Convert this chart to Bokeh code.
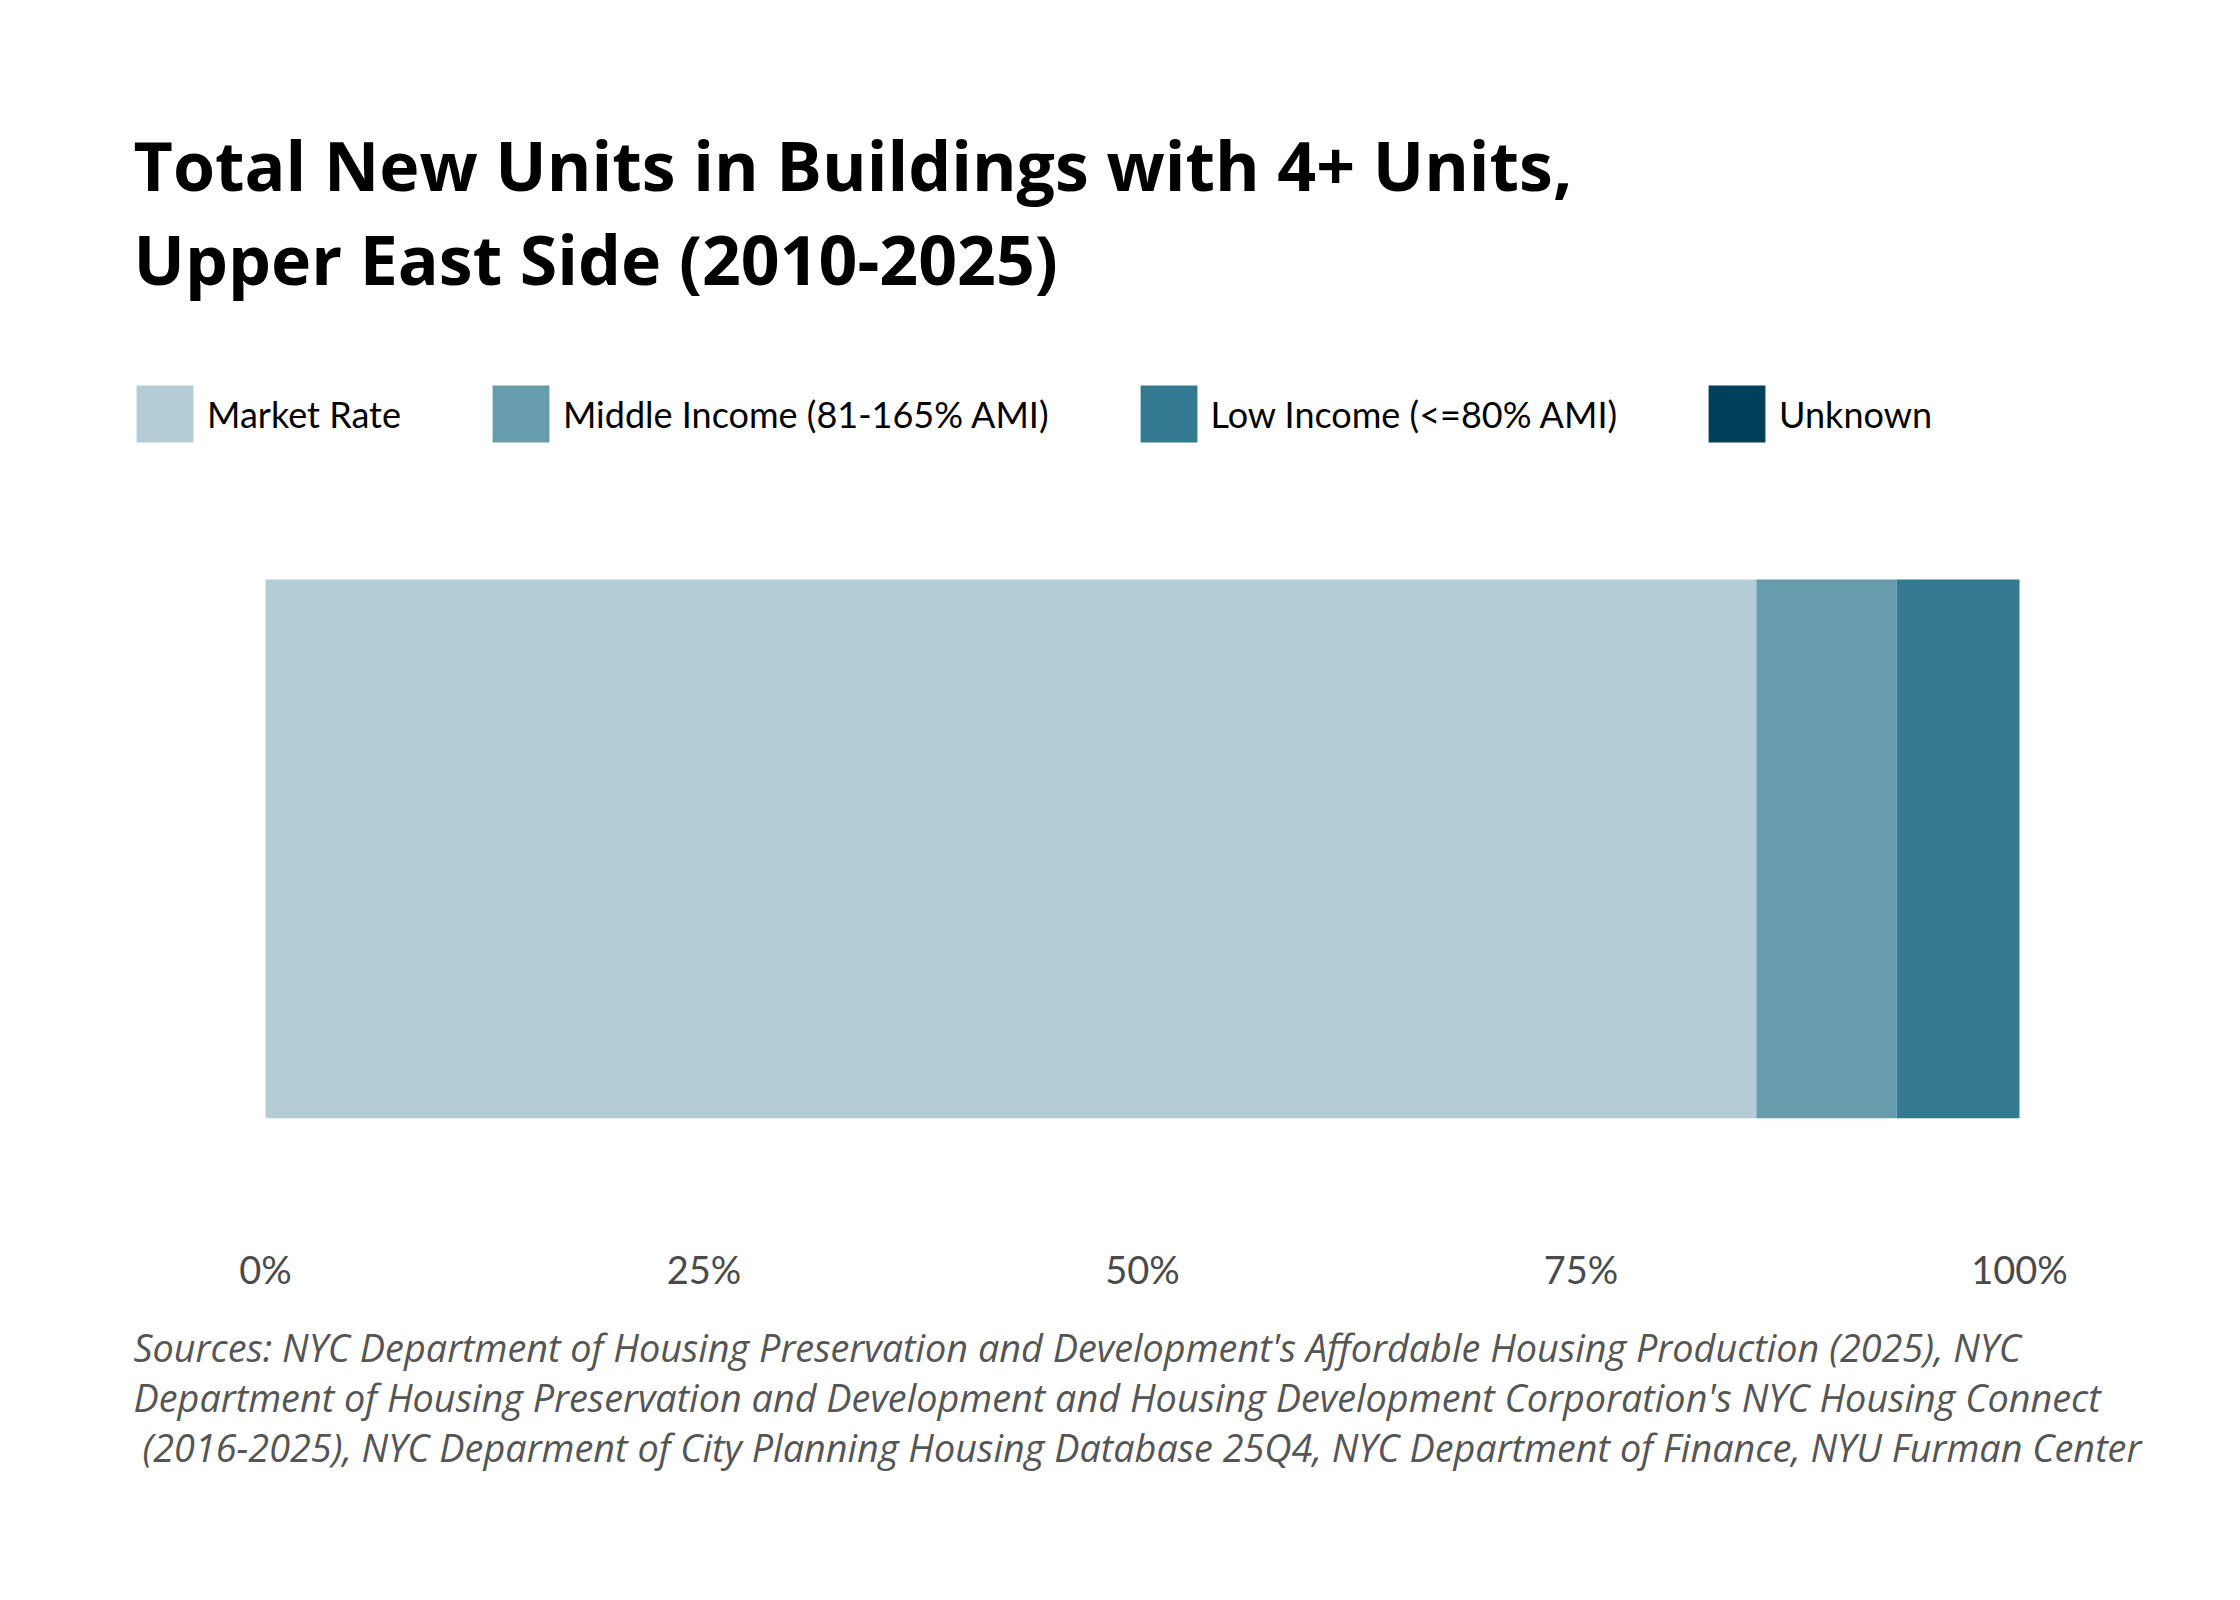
from bokeh.plotting import figure
from bokeh.models import ColumnDataSource, Range1d, FixedTicker, Label
from bokeh.layouts import column
from bokeh.embed import file_html
from bokeh.resources import INLINE

# ---- data ----
categories = ["Market Rate", "Middle Income (81-165% AMI)", "Low Income (<=80% AMI)", "Unknown"]
shares = [85.0, 8.0, 7.0, 0.0]
colors = ["#b4ccd5", "#669cab", "#33798f", "#023f5a"]
tick_values = [0, 25, 50, 75, 100]
tick_labels = ["0%", "25%", "50%", "75%", "100%"]
title_lines = ["Total New Units in Buildings with 4+ Units,", "Upper East Side (2010-2025)"]
source_lines = [
    "Sources: NYC Department of Housing Preservation and Development's Affordable Housing Production (2025), NYC",
    "Department of Housing Preservation and Development and Housing Development Corporation's NYC Housing Connect",
    " (2016-2025), NYC Deparment of City Planning Housing Database 25Q4, NYC Department of Finance, NYU Furman Center",
]

# ---- layout (pixels) ----
W = 2224
H1, H2 = 1320, 264
FRAME_BOTTOM = 1118
BAR_LEFT, BAR_RIGHT = 265, 2019
BAR_TOP = 579
px_per = (BAR_RIGHT - BAR_LEFT) / 100.0
x_start = -BAR_LEFT / px_per
x_end = 100 + (W - BAR_RIGHT) / px_per
bar_px = FRAME_BOTTOM - BAR_TOP
y_start = -0.5
y_end = y_start + FRAME_BOTTOM / bar_px

data = {"y": [0]}
for c, s in zip(categories, shares):
    data[c] = [s]
src = ColumnDataSource(data)

p = figure(width=W, height=H1, output_backend="svg", toolbar_location=None,
           x_range=Range1d(x_start, x_end), y_range=Range1d(y_start, y_end),
           y_axis_location=None, min_border_left=0, min_border_right=0,
           min_border_top=0, min_border_bottom=H1 - FRAME_BOTTOM)
p.outline_line_color = None
p.grid.visible = False
p.background_fill_color = "white"
p.border_fill_color = "white"

p.hbar_stack(categories, y="y", height=1.0, color=colors, line_color=None,
             source=src, legend_label=categories)

ax = p.xaxis[0]
ax.ticker = FixedTicker(ticks=tick_values)
ax.major_label_overrides = {v: t for v, t in zip(tick_values, tick_labels)}
ax.axis_line_color = None
ax.major_tick_line_color = None
ax.minor_tick_line_color = None
ax.major_tick_out = 0
ax.major_tick_in = 0
ax.major_label_standoff = 127
ax.major_label_text_font = "Lato"
ax.major_label_text_font_size = "38px"
ax.major_label_text_color = "#4a4a4a"

# legend (hbar legend glyph is inset 10% on each side)
GW = 71
lg = p.legend[0]
lg.orientation = "horizontal"
lg.location = (136 - 7, FRAME_BOTTOM - 449)
lg.margin = 0
lg.padding = 0
lg.border_line_color = None
lg.background_fill_alpha = 0
lg.glyph_width = GW
lg.glyph_height = GW
lg.label_standoff = 7
lg.spacing = 84
lg.label_text_font = "Lato"
lg.label_text_font_size = "36px"
lg.label_text_color = "#000000"
lg.label_text_baseline = "middle"

for i, t in enumerate(title_lines):
    p.add_layout(Label(x=133, y=FRAME_BOTTOM - (164 + 94 * i), x_units="screen", y_units="screen",
                       text=t, text_font="Open Sans", text_font_style="bold", text_font_size="68px",
                       text_color="#000000", text_baseline="middle"))

# ---- sources (second figure below) ----
f2 = figure(width=W, height=H2, output_backend="svg", toolbar_location=None,
            x_range=Range1d(0, 1), y_range=Range1d(0, 1),
            x_axis_location=None, y_axis_location=None,
            min_border_left=0, min_border_right=0, min_border_top=0, min_border_bottom=0)
f2.outline_line_color = None
f2.grid.visible = False
f2.border_fill_color = "white"
for i, t in enumerate(source_lines):
    center = 1347 + 50 * i - H1
    x0 = 133 + (9 if t.startswith(" ") else 0)
    f2.add_layout(Label(x=x0, y=H2 - center, x_units="screen", y_units="screen",
                        text=t, text_font="Open Sans", text_font_style="italic", text_font_size="37.8px",
                        text_color="#555555", text_baseline="middle"))

layout = column(p, f2, spacing=0)
open("out.html", "w").write(file_html(layout, INLINE))
